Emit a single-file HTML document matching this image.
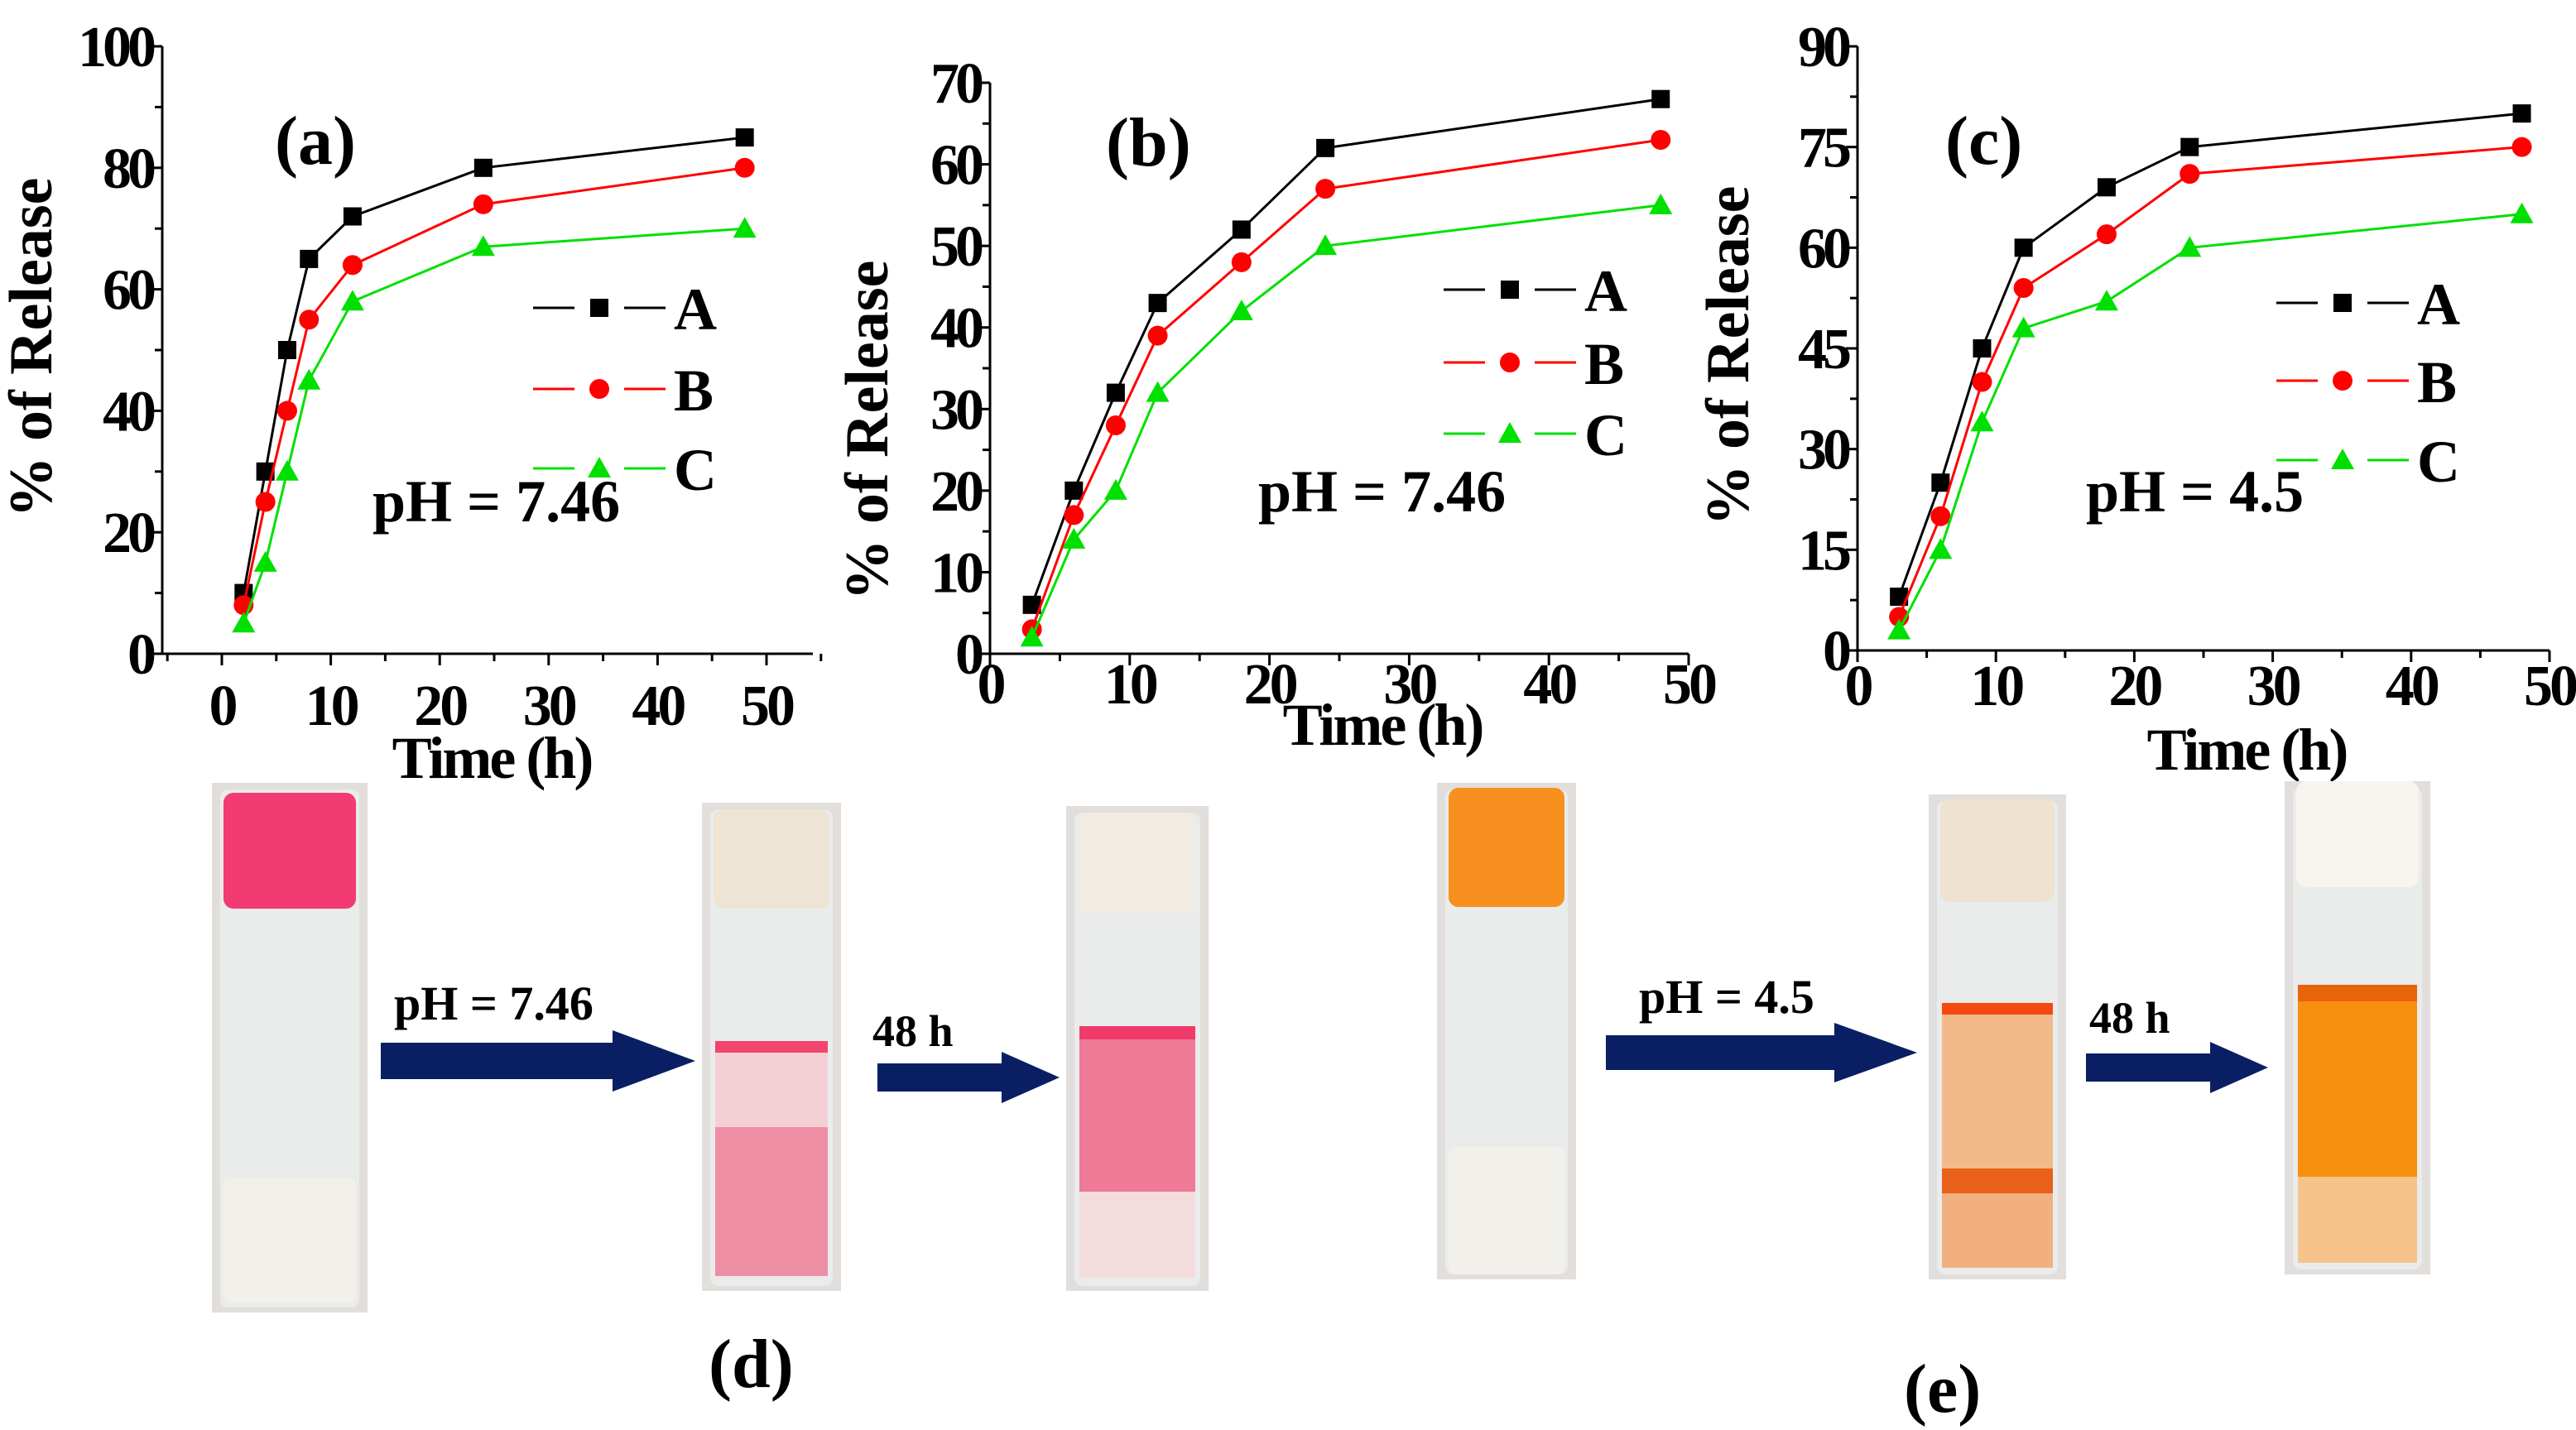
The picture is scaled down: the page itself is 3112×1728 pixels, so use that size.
<!DOCTYPE html>
<html><head><meta charset="utf-8"><style>
html,body{margin:0;padding:0;background:#fff;}
svg{display:block;font-family:"Liberation Serif",serif;font-weight:bold;}
</style></head><body>
<svg id="fig" width="3112" height="1728" viewBox="0 0 3112 1728" xmlns="http://www.w3.org/2000/svg">
<g id="charts"></g>
<g id="photos"></g>
</svg>
<script>
const NS="http://www.w3.org/2000/svg";
// ---- data ----
const timesA=[2,4,6,8,12,24,48];
const timesBC=[3,6,9,12,18,24,48];
const aSeriesA=[10,30,50,65,72,80,85];
const aSeriesB=[8,25,40,55,64,74,80];
const aSeriesC=[5,15,30,45,58,67,70];
const bSeriesA=[6,20,32,43,52,62,68];
const bSeriesB=[3,17,28,39,48,57,63];
const bSeriesC=[2,14,20,32,42,50,55];
const cSeriesA=[8,25,45,60,69,75,80];
const cSeriesB=[5,20,40,54,62,71,75];
const cSeriesC=[3,15,34,48,52,60,65];
const xTicks=[0,10,20,30,40,50];
const yTicksA=[0,20,40,60,80,100];
const yTicksB=[0,10,20,30,40,50,60,70];
const yTicksC=[0,15,30,45,60,75,90];
const seriesNames=["A","B","C"];

function mk(tag,attrs,parent,text){const e=document.createElementNS(NS,tag);for(const k in attrs)e.setAttribute(k,attrs[k]);if(text!==undefined)e.textContent=text;parent.appendChild(e);return e;}
const colors=["#000000","#ff0000","#00e000"];
function marker(g,kind,x,y,c){
  let m;
  if(kind===0){m=mk("rect",{x:x-11,y:y-11,width:22,height:22,fill:c},g);}
  else if(kind===1){m=mk("circle",{cx:x,cy:y,r:12,fill:c},g);}
  else {m=mk("polygon",{points:`${x},${y-14} ${x-14},${y+11} ${x+14},${y+11}`,fill:c},g);}
  return m;
}
function chart(cfg){
  const root=document.getElementById("charts");
  const g=mk("g",{},root);
  
  
  const sx=v=>cfg.x0+(v-0)*(cfg.x50-cfg.x0)/50;
  const sy=v=>cfg.y0-(v)*(cfg.y0-cfg.yTop)/cfg.yMax;
  const ax=mk("line",{x1:cfg.axL,y1:cfg.y0,x2:cfg.axR,y2:cfg.y0,stroke:"#000","stroke-width":3},g);
  
  const ay=mk("line",{x1:cfg.axL,y1:cfg.y0+1,x2:cfg.axL,y2:cfg.yTop,stroke:"#000","stroke-width":3},g);
  
  for(let v=cfg.xMinTick;v<=cfg.xMaxTick;v+=5){const X=sx(v);mk("line",{x1:X,y1:cfg.y0,x2:X,y2:cfg.y0+(v%10===0?14:9),stroke:"#000","stroke-width":3},g);}
  xTicks.forEach(v=>{const t=mk("text",{x:sx(v),y:cfg.xLabY,"text-anchor":"middle","font-size":70,"letter-spacing":"-4"},g,String(v));
    });
  const step=cfg.yTicks[1]-cfg.yTicks[0];
  for(let v=0;v<=cfg.yMax+0.01;v+=step/2){const Y=sy(v);mk("line",{x1:cfg.axL-(Math.abs(v/step-Math.round(v/step))<0.01?14:9),y1:Y,x2:cfg.axL,y2:Y,stroke:"#000","stroke-width":3},g);}
  cfg.yTicks.forEach(v=>{const t=mk("text",{x:cfg.axL-12,y:sy(v)+24,"text-anchor":"end","font-size":70,"letter-spacing":"-5"},g,String(v));
    });
  const xt=mk("text",{x:cfg.xTitle[0],y:cfg.xTitle[1],"text-anchor":"middle","font-size":72,"letter-spacing":"-3"},g,"Time (h)");
  
  const yt=mk("text",{x:0,y:0,"text-anchor":"middle","font-size":74,transform:`translate(${cfg.yTitle[0]},${cfg.yTitle[1]}) rotate(-90)`},g,"% of Release");
  
  const pl=mk("text",{x:cfg.panel[0],y:cfg.panel[1],"font-size":84},g,cfg.panelText);
  
  const ph=mk("text",{x:cfg.ph[0],y:cfg.ph[1],"font-size":72},g,cfg.phText);
  
  cfg.series.forEach((vals,i)=>{
    const sg=mk("g",{},g);
    
    
    const pts=vals.map((v,j)=>sx(cfg.times[j])+","+sy(v)).join(" ");
    mk("polyline",{points:pts,fill:"none",stroke:colors[i],"stroke-width":3},sg);
    vals.forEach((v,j)=>{const m=marker(sg,i,sx(cfg.times[j]),sy(v),colors[i]);
      });
    const lg=mk("g",{},g);
    
    
    const ly=cfg.legY[i];
    mk("line",{x1:cfg.legX,y1:ly,x2:cfg.legX+50,y2:ly,stroke:colors[i],"stroke-width":3},lg);
    mk("line",{x1:cfg.legX+110,y1:ly,x2:cfg.legX+160,y2:ly,stroke:colors[i],"stroke-width":3},lg);
    marker(lg,i,cfg.legX+80,ly,colors[i]);
    mk("text",{x:cfg.legX+170,y:ly+26,"font-size":72},lg,seriesNames[i]);
  });
}
chart({name:"chart-a",times:timesA,series:[aSeriesA,aSeriesB,aSeriesC],yTicks:yTicksA,yMax:100,
  axL:196,axR:982,x0:268,x50:926,y0:790,yTop:56,xMinTick:-5,xMaxTick:55,xLabY:876,
  xTitle:[594,940],yTitle:[62,420],panel:[332,198],panelText:"(a)",ph:[450,630],phText:"pH = 7.46",
  legX:644,legY:[372,470,566]});
chart({name:"chart-b",times:timesBC,series:[bSeriesA,bSeriesB,bSeriesC],yTicks:yTicksB,yMax:70,
  axL:1196,axR:2040,x0:1196,x50:2040,y0:790,yTop:100,xMinTick:0,xMaxTick:50,xLabY:850,
  xTitle:[1670,900],yTitle:[1072,520],panel:[1336,200],panelText:"(b)",ph:[1520,618],phText:"pH = 7.46",
  legX:1744,legY:[350,438,524]});
chart({name:"chart-c",times:timesBC,series:[cSeriesA,cSeriesB,cSeriesC],yTicks:yTicksC,yMax:90,
  axL:2244,axR:3080,x0:2244,x50:3080,y0:786,yTop:56,xMinTick:0,xMaxTick:50,xLabY:852,
  xTitle:[2714,930],yTitle:[2112,430],panel:[2350,198],panelText:"(c)",ph:[2520,618],phText:"pH = 4.5",
  legX:2750,legY:[366,460,556]});

// ---- photos ----
const P=document.getElementById("photos");
function vial(name,x,y,w,h,capTop,capH,capColor,bands,bottomCap){
  const g=mk("g",{},P);
  
  
  mk("rect",{x:x,y:y,width:w,height:h,fill:"#e2dedb"},g);
  mk("rect",{x:x+10,y:y+8,width:w-20,height:h-14,rx:10,fill:"#eaecec"},g);
  mk("rect",{x:x+14,y:y+capTop,width:w-28,height:capH,rx:12,fill:capColor},g);
  bands.forEach(b=>mk("rect",{x:x+16,y:y+b[0],width:w-32,height:b[1],fill:b[2]},g));
  if(bottomCap) mk("rect",{x:x+14,y:y+bottomCap[0],width:w-28,height:bottomCap[1],rx:8,fill:"#f2f0ea"},g);
}
vial("vial-pink-initial",256,946,188,640,12,140,"#f23b73",[],[478,150]);
vial("vial-pink-ph746",848,970,168,590,8,120,"#eee4d4",[[288,14,"#f2446e"],[302,90,"#f3d0d6"],[392,180,"#ee8ea4"]],null);
vial("vial-pink-48h",1288,974,172,586,8,122,"#f0ece4",[[266,16,"#f03a6a"],[282,184,"#ee7a98"],[466,104,"#f4dcdc"]],null);
vial("vial-orange-initial",1736,946,168,600,6,144,"#f7901e",[],[440,154]);
vial("vial-orange-ph45",2330,960,166,586,6,124,"#eee2d0",[[252,14,"#f44a10"],[266,186,"#f2b98a"],[452,30,"#e8601a"],[482,90,"#f2b080"]],null);
vial("vial-orange-48h",2760,944,176,596,0,128,"#f8f4ee",[[246,20,"#e8640c"],[266,212,"#f7900e"],[478,104,"#f6c48a"]],null);

function arrow(name,x1,x2,yc,th,head,hl){
  const p=mk("polygon",{points:`${x1},${yc-th/2} ${x2-hl},${yc-th/2} ${x2-hl},${yc-head/2} ${x2},${yc} ${x2-hl},${yc+head/2} ${x2-hl},${yc+th/2} ${x1},${yc+th/2}`,fill:"#0a1f63"},P);
  
  
}
arrow("arrow-ph746",460,840,1282,44,74,100);
arrow("arrow-48h-pink",1060,1280,1302,34,62,70);
arrow("arrow-ph45",1940,2316,1272,42,72,100);
arrow("arrow-48h-orange",2520,2740,1290,34,62,70);
function label(name,x,y,s,t){const e=mk("text",{x:x,y:y,"font-size":s},P,t);
  }
label("label-ph746",476,1232,58,"pH = 7.46");
label("label-48h-pink",1054,1264,54,"48 h");
label("label-ph45",1980,1224,58,"pH = 4.5");
label("label-48h-orange",2524,1248,54,"48 h");
label("panel-label-d",856,1676,84,"(d)");
label("panel-label-e",2300,1706,84,"(e)");
</script>
</body></html>
